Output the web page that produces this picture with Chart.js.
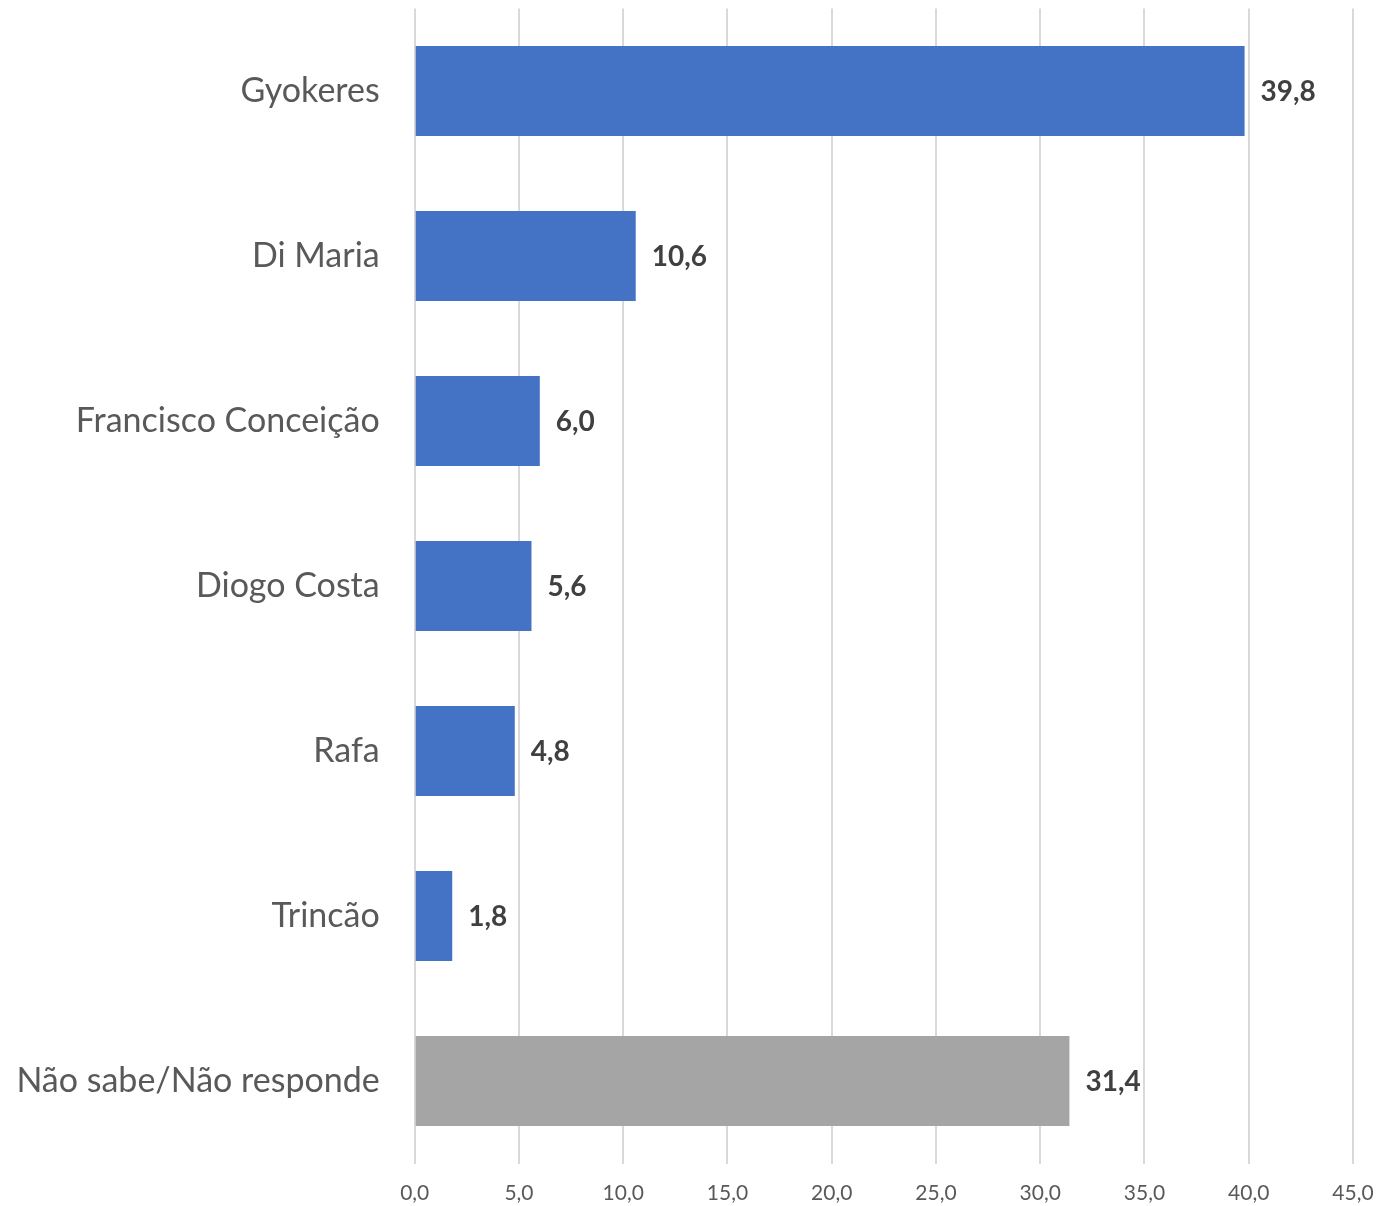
<!DOCTYPE html>
<html>
<head>
<meta charset="utf-8">
<script src="https://cdn.jsdelivr.net/npm/chart.js@4"></script>
<style>
  html, body { margin: 0; padding: 0; background: #fff; }
  #wrap { width: 1378px; height: 1206px; position: relative; }
</style>
</head>
<body>
<div id="wrap"><canvas id="chart"></canvas></div>
<script>
const categories = ['Gyokeres', 'Di Maria', 'Francisco Conceição', 'Diogo Costa', 'Rafa', 'Trincão', 'Não sabe/Não responde']
const values = [39.8, 10.6, 6.0, 5.6, 4.8, 1.8, 31.4]
const barColors = ['#4472C4', '#4472C4', '#4472C4', '#4472C4', '#4472C4', '#4472C4', '#A5A5A5']

const fmt = v => Number(v).toFixed(1).replace('.', ',')

// value labels drawn just past the end of each bar
const valueLabels = {
  id: 'valueLabels',
  afterDatasetsDraw(chart) {
    const ctx = chart.ctx
    const meta = chart.getDatasetMeta(0)
    ctx.save()
    ctx.font = 'bold 28px Lato, "Open Sans", sans-serif'
    ctx.fillStyle = '#404040'
    ctx.textAlign = 'left'
    ctx.textBaseline = 'middle'
    meta.data.forEach((bar, i) => {
      ctx.fillText(fmt(values[i]), bar.x + 16, bar.y + 1)
    })
    ctx.restore()
  }
}

new Chart(document.getElementById('chart'), {
  type: 'bar',
  data: {
    labels: categories,
    datasets: [{
      data: values,
      backgroundColor: barColors,
      borderWidth: 0,
      categoryPercentage: 1,
      barPercentage: 0.545
    }]
  },
  options: {
    indexAxis: 'y',
    responsive: true,
    maintainAspectRatio: false,
    animation: false,
    layout: { padding: { top: 8.5, right: 25, bottom: 0, left: 0 } },
    plugins: {
      legend: { display: false },
      tooltip: { enabled: false }
    },
    scales: {
      x: {
        min: 0,
        max: 45,
        ticks: {
          stepSize: 5,
          callback: v => fmt(v),
          color: '#595959',
          font: { family: 'Lato, "Open Sans", sans-serif', size: 21 },
          padding: 17,
          maxRotation: 0
        },
        grid: { color: '#d9d9d9', lineWidth: 2, tickLength: 0 },
        border: { display: false },
        afterFit(scale) {
          scale.height = 42.5
          scale.paddingLeft = 0
          scale.paddingRight = 0
        }
      },
      y: {
        ticks: {
          color: '#595959',
          font: { family: 'Lato, "Open Sans", sans-serif', size: 34 },
          padding: 27
        },
        grid: { display: false },
        border: { display: false },
        afterFit(scale) {
          scale.width = 414.7
          scale.paddingTop = 0
          scale.paddingBottom = 0
        }
      }
    }
  },
  plugins: [valueLabels]
})
</script>
</body>
</html>
